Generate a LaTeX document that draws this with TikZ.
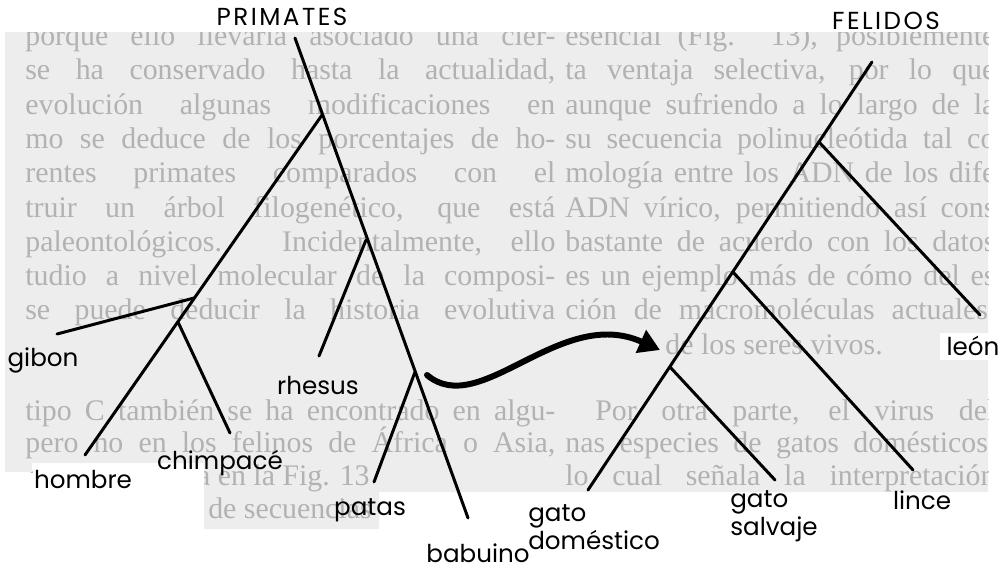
\documentclass[tikz,border=0pt]{standalone}
\usepackage{fontspec}
\setmainfont{Liberation Serif}
\newfontfamily\labelfont{Poppins}
\usetikzlibrary{arrows.meta,positioning}

\tikzset{
  branch/.style={line width=1.7pt, line cap=round},
  taxon/.style={font=\labelfont\fontsize{14}{16}\selectfont, inner sep=0pt, align=left},
  grupo/.style={font=\labelfont\fontsize{14}{16}\selectfont\addfontfeature{LetterSpace=10}, inner sep=0pt},
  pagetext/.style={font=\fontsize{17}{19}\selectfont, text=black!30, inner sep=0pt, anchor=base west},
}

\begin{document}
\begin{tikzpicture}[x=0.2mm, y=-0.2mm]
  \useasboundingbox (0,0) rectangle (1005,572);

  % the printed page behind the trees
  \begin{scope}
    \clip (5,32) -- (988,32) -- (988,492) -- (379,492) -- (379,529) -- (204,529)
      -- (204,463) -- (32,463) -- (32,472) -- (5,472) -- cycle;
    \fill[black!7] (0,0) rectangle (1005,572);
    \foreach \y/\lt/\rt [count=\i] in {
        45/{porque ello llevaría asociado una cier-}/{esencial (Fig. 13), posiblemente},
        79/{se ha conservado hasta la actualidad,}/{ta ventaja selectiva, por lo que},
        114/{evolución algunas modificaciones en}/{aunque sufriendo a lo largo de la},
        148/{mo se deduce de los porcentajes de ho-}/{su secuencia polinucleótida tal co},
        182/{rentes primates comparados con el}/{mología entre los ADN de los dife},
        217/{truir un árbol filogenético, que está}/{ADN vírico, permitiendo así cons},
        251/{paleontológicos. Incidentalmente, ello}/{bastante de acuerdo con los datos},
        285/{tudio a nivel molecular de la composi-}/{es un ejemplo más de cómo del es},
        319/{se puede deducir la historia evolutiva}/{ción de macromoléculas actuales,},
        420/{tipo C también se ha encontrado en algu-}/{\hspace*{6mm}Por otra parte, el virus del},
        452/{pero no en los felinos de África o Asia,}/{nas especies de gatos domésticos,}}{
      \node[pagetext] (lt\i) at (25,\y) {\makebox[106mm][s]{\lt}};
      \node[pagetext] (rt\i) at (565,\y) {\makebox[86mm][s]{\rt}};
    }
    \node[pagetext] (rt12) at (665,354) {de los seres vivos.};
    \node[pagetext, anchor=base east] (lt13) at (370,485) {que se presenta en la Fig. 13};
    \node[pagetext] (rt13) at (565,485) {\makebox[86mm][s]{lo cual señala la interpretación}};
    \node[pagetext, anchor=base east] (lt14) at (372,518) {de secuencias};
    \fill[white] (940,333) rectangle (988,360);
  \end{scope}

  % primates
  \coordinate (pTop) at (295,38);
  \coordinate (pHom) at (322,115);
  \coordinate (pRhe) at (366,240);
  \coordinate (pPat) at (415,372);
  \coordinate (pGib) at (194,298);
  \coordinate (pChi) at (178,322);
  \coordinate (babuinoEnd) at (468,518);
  \coordinate (hombreEnd) at (85,455);
  \coordinate (gibonEnd) at (57,334);
  \coordinate (chimpEnd) at (230,433);
  \coordinate (rhesusEnd) at (319,356);
  \coordinate (patasEnd) at (374,482);
  \draw[branch] (pTop) -- (babuinoEnd);
  \draw[branch] (pHom) -- (hombreEnd);
  \draw[branch] (pGib) -- (gibonEnd);
  \draw[branch] (pChi) -- (chimpEnd);
  \draw[branch] (pRhe) -- (rhesusEnd);
  \draw[branch] (pPat) -- (patasEnd);

  % felidos
  \coordinate (fTop) at (872,62);
  \coordinate (fLeo) at (819,142);
  \coordinate (fLin) at (733,272);
  \coordinate (fSal) at (670,367);
  \coordinate (domEnd) at (588,490);
  \coordinate (leonEnd) at (980,315);
  \coordinate (linceEnd) at (913,470);
  \coordinate (salvajeEnd) at (775,480);
  \draw[branch] (fTop) -- (domEnd);
  \draw[branch] (fLeo) -- (leonEnd);
  \draw[branch] (fLin) -- (linceEnd);
  \draw[branch] (fSal) -- (salvajeEnd);

  % from one tree to the other
  \coordinate (arrowTail) at (427,375);
  \coordinate (arrowTip) at (660,350);
  \draw[line width=3.4pt, line cap=round, -{Triangle[length=4.2mm, width=4.8mm]}]
    (arrowTail) .. controls (480,420) and (560,305) .. (arrowTip);

  \node[grupo] (primates) at (282,17) {PRIMATES};
  \node[grupo] (felidos) at (886,21) {FELIDOS};
  \node[taxon] (gibon) at (43,360) {gibon};
  \node[taxon] (hombre) at (83,479) {hombre};
  \node[taxon] (chimp) at (220,463) {chimpacé};
  \node[taxon] (rhesus) at (318,385) {rhesus};
  \node[taxon] (patas) at (370,510) {patas};
  \node[taxon] (babuino) at (478,553) {babuino};
  \node[taxon] (leon) at (973,346) {león};
  \node[taxon] (lince) at (922,500) {lince};
  \node[taxon, anchor=west] (salvaje) at (730,516) {gato\\salvaje};
  \node[taxon, anchor=west] (domestico) at (528,527) {gato\\doméstico};
\end{tikzpicture}
\end{document}
